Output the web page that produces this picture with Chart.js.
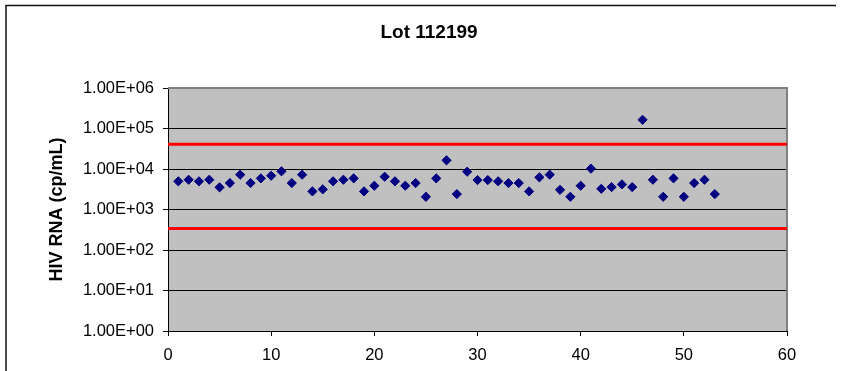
<!DOCTYPE html>
<html>
<head>
<meta charset="utf-8">
<script src="https://cdn.jsdelivr.net/npm/chart.js@4/dist/chart.umd.min.js"></script>
<style>
  html, body { margin: 0; padding: 0; background: #fff; }
  canvas { display: block; }
</style>
</head>
<body>
<canvas id="c" width="846" height="371"></canvas>
<script>
const chartTitle = 'Lot 112199';
const yAxisTitle = 'HIV RNA (cp/mL)';
const runs = [1,2,3,4,5,6,7,8,9,10,11,12,13,14,15,16,17,18,19,20,21,22,23,24,25,26,27,28,29,30,31,32,33,34,35,36,37,38,39,40,41,42,43,44,45,46,47,48,49,50,51,52,53];
const hivRna = [4960,5430,4960,5430,3520,4500,7230,4500,5870,6820,
                8770,4500,7230,2800,3140,4960,5430,5870,2800,3860,
                6440,4960,3860,4500,2060,5870,16400,2400,8580,5330,
                5330,4960,4500,4500,2800,6220,7230,3060,2060,3860,
                10200,3240,3570,4170,3570,164000,5430,2060,5870,2060,
                4500,5430,2400];
const upperLimit = 41000;
const lowerLimit = 340;
const xRange = [0, 60];
const xStep = 10;
const yTicks = [1, 10, 100, 1000, 10000, 100000, 1000000];

const FONT = "'Liberation Sans', Arial, sans-serif";

function sci(v) {
  const e = Math.floor(Math.log10(v) + 1e-9);
  const m = v / Math.pow(10, e);
  const ea = Math.abs(e);
  return m.toFixed(2) + 'E' + (e < 0 ? '-' : '+') + (ea < 10 ? '0' : '') + ea;
}

const decor = {
  id: 'decor',
  beforeDraw(chart) {
    const {ctx, chartArea: a} = chart;
    ctx.save();
    ctx.fillStyle = '#C0C0C0';
    ctx.fillRect(a.left, a.top, a.right - a.left, a.bottom - a.top);
    ctx.strokeStyle = '#111';
    ctx.lineWidth = 1.5;
    ctx.beginPath();
    ctx.moveTo(6, 371);
    ctx.lineTo(6, 5.5);
    ctx.lineTo(836, 5.5);
    ctx.stroke();
    ctx.fillStyle = '#000';
    ctx.font = 'bold 19px ' + FONT;
    ctx.textAlign = 'center';
    ctx.textBaseline = 'alphabetic';
    ctx.fillText(chartTitle, 429, 38);
    ctx.restore();
  },
  beforeDatasetsDraw(chart) {
    const {ctx, chartArea: a} = chart;
    ctx.save();
    ctx.strokeStyle = '#808080';
    ctx.lineWidth = 2;
    ctx.beginPath();
    ctx.moveTo(a.left, a.top);
    ctx.lineTo(a.right, a.top);
    ctx.lineTo(a.right, a.bottom);
    ctx.stroke();
    ctx.restore();
  }
};

new Chart(document.getElementById('c'), {
  type: 'scatter',
  data: {
    datasets: [
      {
        type: 'line',
        data: [{x: xRange[0], y: upperLimit}, {x: xRange[1], y: upperLimit}],
        borderColor: '#FF0000', borderWidth: 3, pointRadius: 0, fill: false
      },
      {
        type: 'line',
        data: [{x: xRange[0], y: lowerLimit}, {x: xRange[1], y: lowerLimit}],
        borderColor: '#FF0000', borderWidth: 3, pointRadius: 0, fill: false
      },
      {
        data: runs.map((r, i) => ({x: r, y: hivRna[i]})),
        pointStyle: 'rectRot',
        pointRadius: 4.6,
        backgroundColor: '#000080',
        borderColor: '#000080',
        borderWidth: 1
      }
    ]
  },
  options: {
    responsive: false,
    animation: false,
    layout: { padding: { left: 0, right: 59, top: 88, bottom: 0 } },
    plugins: { legend: { display: false }, tooltip: { enabled: false }, title: { display: false } },
    scales: {
      x: {
        type: 'linear',
        min: xRange[0], max: xRange[1],
        ticks: { stepSize: xStep, color: '#000', padding: 10, font: { family: FONT, size: 16.5 } },
        grid: { drawOnChartArea: false, drawTicks: true, tickLength: 5, color: '#000' },
        border: { color: '#000', width: 1 },
        afterFit(scale) { scale.height = 40; }
      },
      y: {
        type: 'logarithmic',
        min: yTicks[0], max: yTicks[yTicks.length - 1],
        afterBuildTicks(scale) { scale.ticks = yTicks.map(v => ({value: v, major: false})); },
        ticks: { color: '#000', padding: 9, font: { family: FONT, size: 16.5 }, callback: (v) => sci(v), autoSkip: false },
        grid: {
          color: (c) => (c.tick && c.tick.value === yTicks[yTicks.length - 1]) ? '#808080' : '#000',
          tickColor: '#000', tickLength: 5, lineWidth: 1
        },
        border: { color: '#000', width: 1 },
        title: {
          display: true, text: yAxisTitle, color: '#000',
          font: { family: FONT, size: 18, weight: 'bold' },
          padding: { top: 46, bottom: 0 }
        },
        afterFit(scale) { scale.width = 168; }
      }
    }
  },
  plugins: [decor]
});
</script>
</body>
</html>
